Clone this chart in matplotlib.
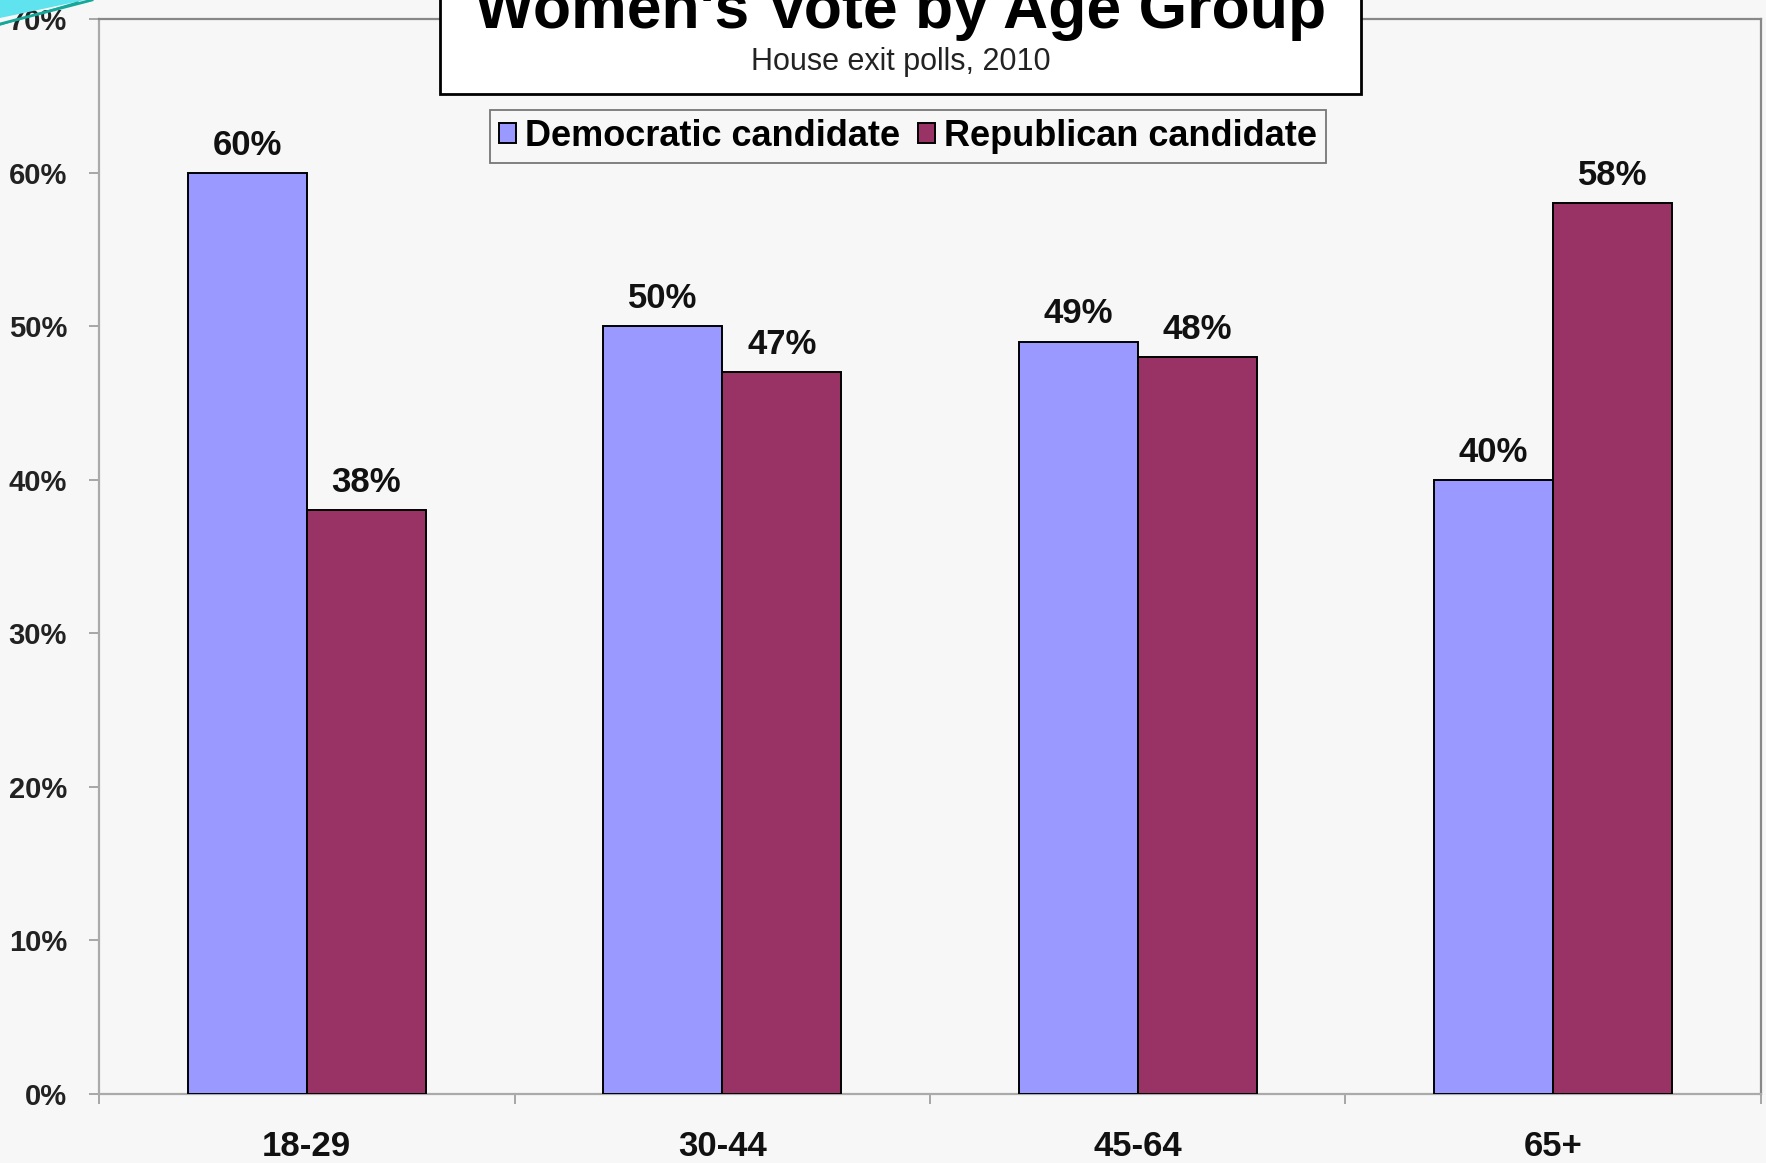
import numpy as np
import matplotlib
matplotlib.use('Agg')
import matplotlib.pyplot as plt
from matplotlib.patches import Rectangle, Polygon
from matplotlib.lines import Line2D

# Women's vote by age group, House exit polls 2010
age_groups = ['18-29', '30-44', '45-64', '65+']
dem_share = [0.60, 0.50, 0.49, 0.40]
rep_share = [0.38, 0.47, 0.48, 0.58]
y_ticks = [0.0, 0.1, 0.2, 0.3, 0.4, 0.5, 0.6, 0.7]

DEM_COLOR = '#9999FF'
REP_COLOR = '#993366'
BG_COLOR = '#f7f7f7'
FONT = 'Liberation Sans'

W, H = 1766, 1163
fig = plt.figure(figsize=(W / 100, H / 100), dpi=100)
fig.patch.set_facecolor(BG_COLOR)
plt.rcParams['font.family'] = [FONT, 'DejaVu Sans']

# plot area in pixel coordinates of the original
ax = fig.add_axes([99 / W, 1 - 1094 / H, (1761 - 99) / W, (1094 - 19) / H])
ax.set_facecolor(BG_COLOR)

x = np.arange(len(age_groups))
bw = 0.287
dem_bars = ax.bar(x - bw / 2, dem_share, bw, color=DEM_COLOR, edgecolor='black', linewidth=1.4,
                  label='Democratic candidate', zorder=3)
rep_bars = ax.bar(x + bw / 2, rep_share, bw, color=REP_COLOR, edgecolor='black', linewidth=1.4,
                  label='Republican candidate', zorder=3)

# value labels above each bar
for bars, vals in ((dem_bars, dem_share), (rep_bars, rep_share)):
	for b, v in zip(bars, vals):
		ax.annotate('{:.0f}%'.format(v * 100), (b.get_x() + b.get_width() / 2, v),
					xytext=(0, 13), textcoords='offset points', ha='center', va='baseline',
					fontsize=25, fontweight='bold', color='#111111', zorder=5)

ax.set_xlim(-0.5, len(age_groups) - 0.5)
ax.set_ylim(0, 0.70)

ax.set_yticks(y_ticks)
ax.set_yticklabels(['{:.0f}%'.format(t * 100) for t in y_ticks], fontweight='bold')
ax.tick_params(axis='y', length=7, width=1.2, color='#999999', pad=16, labelsize=21, labelcolor='#222222')

ax.set_xticks(x)
ax.set_xticklabels(age_groups, fontsize=25, fontweight='bold', color='#111111')
ax.set_xticks(np.arange(len(age_groups) + 1) - 0.5, minor=True)
ax.tick_params(axis='x', which='major', length=0, pad=26)
ax.tick_params(axis='x', which='minor', length=7, width=1.2, color='#999999', direction='out')

for side in ('left', 'bottom'):
	ax.spines[side].set_color('#aaaaaa')
	ax.spines[side].set_linewidth(1.6)
for side in ('top', 'right'):
	ax.spines[side].set_color('#888888')
	ax.spines[side].set_linewidth(1.6)

# title box
fig.patches.append(Rectangle((440 / W, 1 - 94 / H), (1361 - 440) / W, 120 / H, transform=fig.transFigure,
							 facecolor='white', edgecolor='black', linewidth=2, zorder=10))
fig.text(901 / W, 1 - 28 / H, "Women's Vote by Age Group", ha='center', va='baseline',
		 fontsize=45, fontweight='bold', color='black', zorder=11)
fig.text(901 / W, 1 - 70 / H, 'House exit polls, 2010', ha='center', va='baseline',
		 fontsize=22, color='#222222', zorder=11)

# legend
leg = fig.legend(handles=[dem_bars, rep_bars], loc='center', bbox_to_anchor=(908 / W, 1 - 136.5 / H),
				 ncol=2, prop={'weight': 'bold', 'size': 26, 'family': FONT},
				 frameon=True, fancybox=False, edgecolor='#777777', facecolor=BG_COLOR, framealpha=1,
				 handlelength=0.47, handleheight=0.47, handletextpad=0.25, columnspacing=0.5,
				 borderpad=0.25, borderaxespad=0)
leg.get_frame().set_linewidth(1.3)
leg.set_zorder(12)

# decorative swoosh of the slide template in the corner
fig.patches.append(Polygon([(0, 1), (85 / W, 1), (0, 1 - 18 / H)], closed=True, transform=fig.transFigure,
						   facecolor='#5fe3ee', edgecolor='none', zorder=20))
fig.lines.append(Line2D([0, 92 / W], [1 - 24 / H, 1], transform=fig.transFigure, color='#14a89a', lw=2, zorder=21))
fig.lines.append(Line2D([0, 78 / W], [1 - 25 / H, 1 - 2 / H], transform=fig.transFigure, color='#14a89a', lw=1, zorder=21))

fig.savefig('out.png', dpi=100, facecolor=fig.get_facecolor())
